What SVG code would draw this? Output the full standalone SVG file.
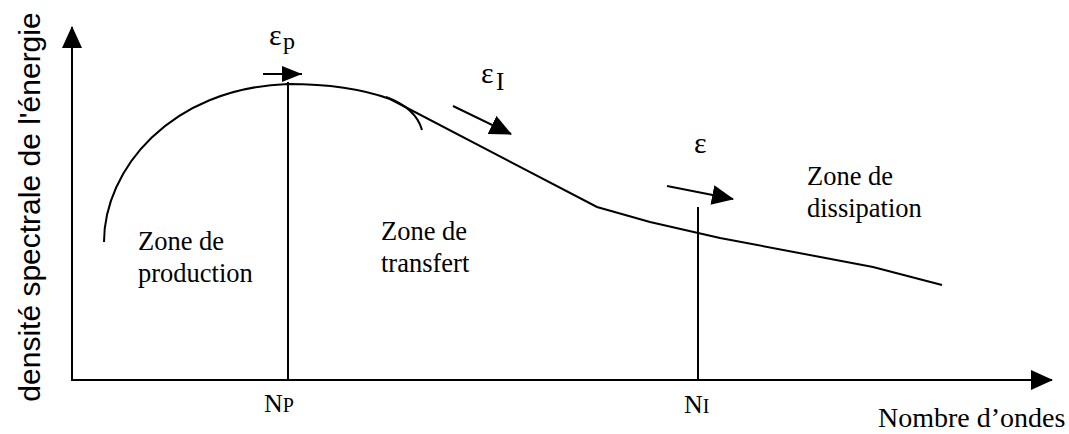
<svg xmlns="http://www.w3.org/2000/svg" width="1069" height="434" viewBox="0 0 1069 434">
<style>
.ln{stroke:#000;stroke-width:2;fill:none}
text{fill:#000}
</style>
<defs>
<marker id="ah" markerUnits="userSpaceOnUse" markerWidth="22" markerHeight="20" refX="21" refY="10" orient="auto">
<path d="M0,0 L22,10 L0,20 z" fill="#000"/>
</marker>
<marker id="ahs" markerUnits="userSpaceOnUse" markerWidth="20" markerHeight="16" refX="20" refY="8" orient="auto">
<path d="M0,0 L20,8 L0,16 z" fill="#000"/>
</marker>
</defs>
<rect width="1069" height="434" fill="#fff"/>
<g id="axes">
<line class="ln" x1="72" y1="380" x2="72" y2="27" marker-end="url(#ah)"/>
<line class="ln" x1="71" y1="380" x2="1052" y2="380" marker-end="url(#ah)"/>
</g>
<g id="curve">
<path class="ln" d="M104,242 C104,170 170,88 288,84 C330,84 365,90 390,99 L597,207 L650,222 L720,238 L873,267 L942,285"/>
<path class="ln" d="M386,97 Q416,108 422,130"/>
</g>
<g id="markers">
<line class="ln" x1="288" y1="82" x2="288" y2="380"/>
<line class="ln" x1="698" y1="207" x2="698" y2="380"/>
</g>
<g id="connectors">
<line class="ln" x1="263" y1="74" x2="302" y2="74" marker-end="url(#ahs)"/>
<line class="ln" x1="453" y1="106" x2="511" y2="134" marker-end="url(#ah)"/>
<line class="ln" x1="667" y1="186" x2="733" y2="199" marker-end="url(#ah)"/>
</g>
<g id="labels" font-family="'Liberation Serif', 'Times New Roman', serif">
<text x="269" y="45" font-size="30">ε</text>
<text x="283" y="49" font-size="24">p</text>
<text x="481" y="83" font-size="30">ε</text>
<text x="496" y="90" font-size="25">I</text>
<text x="694" y="153" font-size="30">ε</text>
<text font-size="26.5"><tspan x="138" y="250">Zone de</tspan><tspan x="138" y="282">production</tspan></text>
<text font-size="26.5"><tspan x="381" y="240">Zone de</tspan><tspan x="381" y="272">transfert</tspan></text>
<text font-size="26.5"><tspan x="807" y="185">Zone de</tspan><tspan x="807" y="217">dissipation</tspan></text>
<text x="264" y="412" font-size="26">N<tspan font-size="20">P</tspan></text>
<text x="684" y="413" font-size="26">N<tspan font-size="20">I</tspan></text>
<text x="878" y="427" font-size="28">Nombre d’ondes</text>
<text font-family="'Liberation Sans', Arial, sans-serif" font-size="30" text-anchor="middle" transform="translate(40,207) rotate(-90)">densité spectrale de l'énergie</text>
</g>
</svg>
